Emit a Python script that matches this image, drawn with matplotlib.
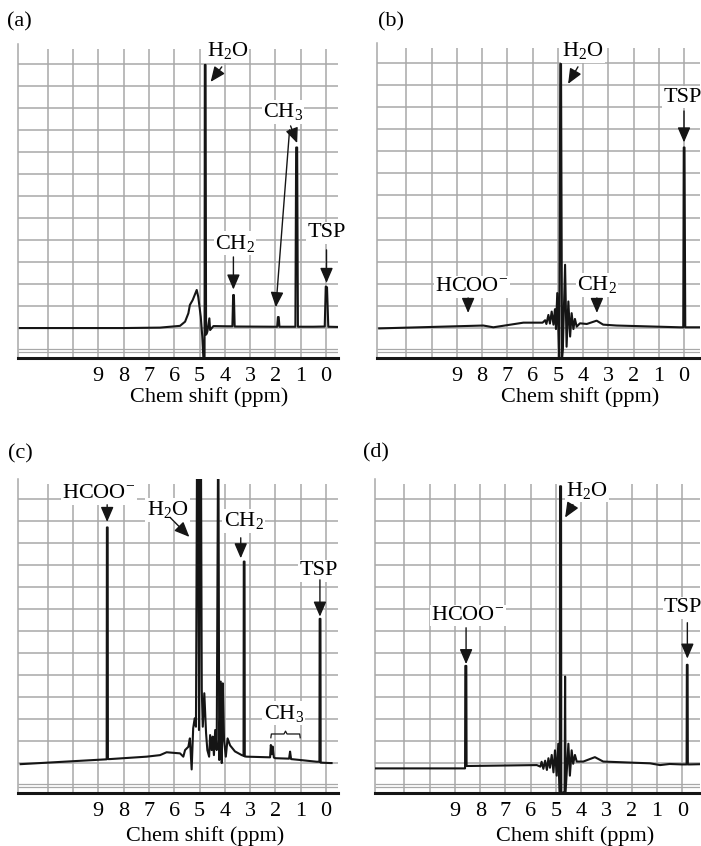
import matplotlib.pyplot as plt

plt.rcParams["font.family"] = ["Liberation Serif", "DejaVu Serif"]
plt.rcParams["mathtext.fontset"] = "custom"
plt.rcParams["mathtext.rm"] = "Liberation Serif"
plt.rcParams["mathtext.it"] = "Liberation Serif:italic"

W, H = 701, 846
GRID_COLOR = "#a8a8a8"
LINE_COLOR = "#151515"
YLIM = (-1.36, 12.9)

# spectra: chemical shift (ppm) and height in grid units
PPM_A = [12.1, 8.0, 6.56, 5.77, 5.57, 5.44, 5.38, 5.27, 5.11, 5.05, 4.95, 4.89,
         4.85, 4.80, 4.79, 4.76, 4.74, 4.69, 4.61, 4.58, 4.45, 3.90, 3.70, 3.67,
         3.64, 3.61, 2.0, 1.93, 1.90, 1.87, 1.84, 1.21, 1.18, 1.14, 1.11, 0.5,
         0.05, 0.01, -0.04, -0.09, -0.47]
INT_A = [0.0, 0.0, 0.02, 0.1, 0.29, 0.67, 1.05, 1.27, 1.73, 1.42, 0.51, -0.39,
         -1.3, -1.3, 11.95, 11.95, -0.3, -0.17, 0.44, -0.09, 0.09, 0.08, 0.08, 1.5,
         1.5, 0.07, 0.06, 0.06, 0.5, 0.5, 0.06, 0.06, 8.2, 8.2, 0.06, 0.06,
         0.07, 1.88, 1.85, 0.06, 0.05]

PPM_B = [12.07, 7.95, 7.55, 6.36, 5.6, 5.5, 5.45, 5.37, 5.31, 5.24, 5.17, 5.11,
         5.07, 5.02, 4.97, 4.94, 4.90, 4.87, 4.83, 4.80, 4.71, 4.65, 4.58, 4.51,
         4.45, 4.38, 4.32, 4.25, 4.12, 3.85, 3.46, 3.2, 2.67, 0.16, 0.03, 0.01,
         -0.02, -0.05, -0.11, -0.63]
INT_B = [-0.02, 0.11, 0.03, 0.24, 0.24, 0.35, 0.18, 0.59, 0.2, 0.74, 0.15, 0.85,
         -0.05, 1.58, -0.2, -1.36, 11.95, 11.95, -1.36, -1.0, 2.86, -0.85, 1.2, -0.39,
         0.67, -0.05, 0.41, 0.06, 0.21, 0.18, 0.33, 0.15, 0.11, 0.03, 0.03, 8.17,
         8.17, 0.03, 0.03, 0.03]

PPM_C = [12.07, 8.67, 8.66, 8.63, 8.62, 8.54, 7.09, 6.56, 6.3, 5.77, 5.64, 5.57,
         5.44, 5.38, 5.31, 5.25, 5.19, 5.14, 5.10, 5.06, 5.02, 4.98, 4.94, 4.91,
         4.87, 4.81, 4.74, 4.69, 4.62, 4.58, 4.52, 4.48, 4.43, 4.38, 4.32, 4.27,
         4.25, 4.22, 4.16, 4.12, 4.08, 4.03, 3.96, 3.89, 3.79, 3.6, 3.33, 3.26,
         3.25, 3.22, 3.21, 3.13, 2.21, 2.18, 2.14, 2.11, 2.06, 2.0, 1.46, 1.42,
         1.38, 1.03, 0.37, 0.26, 0.25, 0.22, 0.21, -0.16, -0.22]
INT_C = [-0.05, 0.17, 10.7, 10.7, 0.18, 0.18, 0.29, 0.36, 0.49, 0.44, 0.29, 0.59,
         0.74, 1.12, -0.29, 1.58, 2.03, 1.65, 13.5, 13.5, 1.5, 13.5, 13.5, 3.32,
         1.65, 3.17, 1.35, 0.59, 0.29, 1.27, 0.59, 1.2, 0.36, 1.5, 0.59, 13.5,
         13.5, 0.14, 3.7, 0.0, 3.62, 1.05, 0.29, 1.12, 0.8, 0.53, 0.36, 0.33,
         9.15, 9.15, 0.3, 0.29, 0.26, 0.82, 0.4, 0.75, 0.25, 0.22, 0.2, 0.52,
         0.18, 0.14, 0.06, 0.06, 6.55, 6.55, 0.02, 0.0, 0.0]

PPM_D = [12.17, 8.60, 8.59, 8.55, 8.54, 8.4, 5.76, 5.62, 5.57, 5.5, 5.43, 5.36,
         5.3, 5.24, 5.17, 5.1, 5.04, 4.97, 4.91, 4.85, 4.84, 4.80, 4.79, 4.66,
         4.64, 4.62, 4.51, 4.45, 4.38, 4.32, 4.25, 4.18, 3.92, 3.46, 3.13, 1.28,
         0.88, 0.5, 0.02, -0.17, -0.18, -0.21, -0.22, -0.3, -0.7]
INT_D = [-0.23, -0.23, 4.42, 4.42, -0.12, -0.12, -0.08, -0.15, 0.07, -0.25, 0.12, -0.3,
         0.23, -0.2, 0.38, -0.41, 0.59, -0.56, 0.89, -1.36, 12.57, 12.57, -1.36, -1.29,
         3.94, -1.29, 0.89, -0.56, 0.59, -0.02, 0.38, 0.08, 0.08, 0.28, 0.08, 0.0,
         -0.08, -0.03, -0.05, -0.05, 4.47, 4.47, -0.05, -0.05, -0.04]

TICKS = [9, 8, 7, 6, 5, 4, 3, 2, 1, 0]
FONT_SIZE = 16


def _make_axes(fig, left, top, right, bottom, ppm0, scale):
    ax = fig.add_axes([left / W, 1 - bottom / H, (right - left) / W, (bottom - top) / H])
    ax.set_xlim((ppm0 - left) / scale, (ppm0 - right) / scale)
    ax.set_ylim(*YLIM)
    return ax


def _draw_grid(ax):
    x0, x1 = ax.get_xlim()
    ax.vlines(range(0, 12), YLIM[0], 12.68, color=GRID_COLOR, lw=1.1, zorder=1)
    ax.hlines(range(0, 13), x0, x1, color=GRID_COLOR, lw=1.1, zorder=1)
    ax.hlines([-0.93, -1.08], x0, x1, color=GRID_COLOR, lw=0.9, zorder=1)

    for side in ("top", "right"):
        ax.spines[side].set_visible(False)
    ax.spines["left"].set_color(GRID_COLOR)
    ax.spines["left"].set_linewidth(1.1)
    ax.spines["bottom"].set_color(LINE_COLOR)
    ax.spines["bottom"].set_linewidth(2.2)
    ax.spines["bottom"].set_zorder(6)

    ax.set_yticks([])
    ax.set_xticks(TICKS)
    ax.set_xticklabels([str(t) for t in TICKS])
    ax.tick_params(axis="x", length=0, pad=6.5, labelsize=FONT_SIZE)


def _label(ax, text, pos, arrows):
    ax.text(*pos, text, ha="center", va="center", fontsize=FONT_SIZE, zorder=5,
            bbox=dict(facecolor="white", edgecolor="none", pad=1.0))
    for tail, head in arrows:
        ax.annotate("", xy=head, xytext=tail, zorder=5,
                    arrowprops=dict(arrowstyle="-|>,head_length=0.7,head_width=0.3",
                                    color=LINE_COLOR, lw=1.0, shrinkA=0, shrinkB=0,
                                    mutation_scale=13))


def _finish(ax, letter, letter_xy, xlabel_x, xlabel_y):
    ax.set_xlabel("Chem shift (ppm)", fontsize=FONT_SIZE)
    ax.xaxis.set_label_coords(xlabel_x, xlabel_y)
    ax.figure.text(letter_xy[0] / W, 1 - letter_xy[1] / H, letter,
                   fontsize=FONT_SIZE, ha="left", va="center")


def main():
    fig = plt.figure(figsize=(W / 100, H / 100), dpi=100)

    # (a)
    ax = _make_axes(fig, 18.3, 44, 338.3, 358, 326, 25.3)
    _draw_grid(ax)
    ax.plot(PPM_A, INT_A, color=LINE_COLOR, lw=1.5, zorder=3)
    _label(ax, "H$_2$O", (3.9, 12.59), [((4.12, 11.86), (4.56, 11.18))])
    _label(ax, "CH$_3$", (1.7, 9.82), [((1.4, 9.18), (1.14, 8.4)),
                                       ((1.44, 9.0), (1.98, 0.95))])
    _label(ax, "CH$_2$", (3.6, 3.86), [((3.66, 3.23), (3.66, 1.75))])
    _label(ax, "TSP", (-0.04, 4.32), [((-0.02, 3.55), (-0.02, 2.05))])
    _finish(ax, "(a)", (7, 22), 0.596, -0.093)

    # (b)
    ax = _make_axes(fig, 376.7, 43, 700, 358, 684, 25.25)
    _draw_grid(ax)
    ax.plot(PPM_B, INT_B, color=LINE_COLOR, lw=1.5, zorder=3)
    _label(ax, "H$_2$O", (4.0, 12.55), [((4.2, 11.82), (4.59, 11.05))])
    _label(ax, "TSP", (0.04, 10.45), [((0.0, 9.82), (0.0, 8.4))])
    _label(ax, "HCOO$^{-}$", (8.4, 1.86), [((8.55, 1.36), (8.55, 0.68))])
    _label(ax, "CH$_2$", (3.45, 1.95), [((3.45, 1.36), (3.45, 0.68))])
    _finish(ax, "(b)", (378, 22), 0.63, -0.093)

    # (c)
    ax = _make_axes(fig, 18.3, 479, 338.3, 793, 326, 25.3)
    _draw_grid(ax)
    ax.plot(PPM_C, INT_C, color=LINE_COLOR, lw=1.5, zorder=3)
    _label(ax, "HCOO$^{-}$", (8.97, 12.23), [((8.65, 11.73), (8.65, 10.95))])
    _label(ax, "H$_2$O", (6.27, 11.5), [((6.15, 11.14), (5.4, 10.27))])
    _label(ax, "CH$_2$", (3.25, 11.0), [((3.37, 10.23), (3.37, 9.3))])
    _label(ax, "TSP", (0.28, 8.73), [((0.24, 8.32), (0.24, 6.65))])
    _label(ax, "CH$_3$", (1.67, 2.27), [])
    ax.plot([2.18, 2.16, 1.66, 1.6, 1.54, 1.04, 1.02],
            [1.15, 1.32, 1.32, 1.45, 1.32, 1.32, 1.15],
            color=LINE_COLOR, lw=0.9, zorder=4)
    _finish(ax, "(c)", (8, 454), 0.583, -0.105)

    # (d)
    ax = _make_axes(fig, 375, 479, 700, 793.3, 682.3, 25.26)
    _draw_grid(ax)
    ax.plot(PPM_D, INT_D, color=LINE_COLOR, lw=1.5, zorder=3)
    _label(ax, "H$_2$O", (3.77, 12.38), [((4.33, 11.74), (4.64, 11.15))])
    _label(ax, "HCOO$^{-}$", (8.48, 6.7), [((8.56, 6.15), (8.56, 4.5))])
    _label(ax, "TSP", (-0.03, 7.06), [((-0.2, 6.38), (-0.2, 4.75))])
    _finish(ax, "(d)", (363, 453), 0.617, -0.105)

    fig.savefig("out.png", dpi=100)
    plt.close(fig)


main()
